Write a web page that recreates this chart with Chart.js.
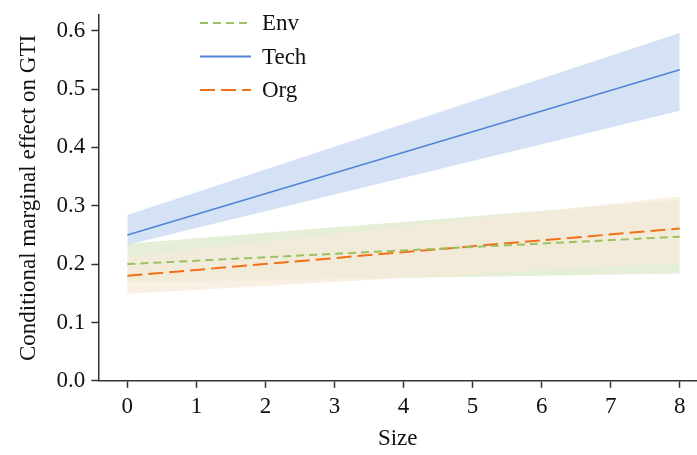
<!DOCTYPE html>
<html>
<head>
<meta charset="utf-8">
<script src="https://cdn.jsdelivr.net/npm/chart.js@4"></script>
<style>
  html,body{margin:0;padding:0;background:#fff;}
  #wrap{width:697px;height:455px;position:relative;}
</style>
</head>
<body>
<div id="wrap"><canvas id="chart" width="697" height="455"></canvas></div>
<script>
// values (size 0 and size 8, lines are straight)
const sizes = [0, 8];
const envMean = [0.200, 0.247];
const envLow  = [0.169, 0.184];
const envHigh = [0.235, 0.310];
const techMean = [0.250, 0.533];
const techLow  = [0.233, 0.463];
const techHigh = [0.284, 0.596];
const orgMean = [0.180, 0.261];
const orgLow  = [0.149, 0.203];
const orgHigh = [0.213, 0.316];
const xTicks = [0, 1, 2, 3, 4, 5, 6, 7, 8];
const yTicks = [0, 0.1, 0.2, 0.3, 0.4, 0.5, 0.6];
const labels = ['Env', 'Tech', 'Org'];

const FONT = "'Liberation Serif', 'DejaVu Serif', serif";
const FSIZE = 23;
const pts = arr => arr.map((v,i)=>({x:sizes[i], y:v}));

// bandOrder: lower is painted later (on top)
const series = [
  {name:labels[0], mean:envMean, lo:envLow, hi:envHigh, color:'#9dc063', band:'rgba(155,190,95,0.26)', bandOrder:3, dash:[8,5], width:2},
  {name:labels[1], mean:techMean, lo:techLow, hi:techHigh, color:'#4f85d8', band:'rgba(74,127,212,0.23)', bandOrder:1, dash:[], width:1.5},
  {name:labels[2], mean:orgMean, lo:orgLow, hi:orgHigh, color:'#f07018', band:'rgba(247,233,217,0.75)', bandOrder:2, dash:[15,6], width:2}
];

const datasets = [];
series.forEach(s=>{
  datasets.push({label:s.name, data:pts(s.mean), borderColor:s.color, borderWidth:s.width,
    borderDash:s.dash, pointRadius:0, fill:false, order:0});
});
series.forEach(s=>{
  datasets.push({label:s.name+' hi', data:pts(s.hi), borderWidth:0, pointRadius:0,
    backgroundColor:s.band, fill:'+1', order:s.bandOrder});
  datasets.push({label:s.name+' lo', data:pts(s.lo), borderWidth:0, pointRadius:0,
    fill:false, order:s.bandOrder});
});

// legend drawn inside the plot, like the original
const innerLegend = {
  id:'innerLegend',
  afterDraw(chart){
    const ctx = chart.ctx;
    ctx.save();
    series.forEach((s,i)=>{
      const y = 23 + i*33.5;
      ctx.strokeStyle = s.color; ctx.lineWidth = 2;
      ctx.setLineDash(s.dash);
      ctx.beginPath(); ctx.moveTo(200, y); ctx.lineTo(251, y); ctx.stroke();
      ctx.setLineDash([]);
      ctx.fillStyle = '#111'; ctx.font = FSIZE + 'px ' + FONT;
      ctx.textBaseline = 'middle'; ctx.textAlign = 'left';
      ctx.fillText(s.name, 262, y + 1);
    });
    ctx.restore();
  }
};

const axisCommon = {
  border:{display:true, color:'#333', width:1.5},
  grid:{drawOnChartArea:false, drawTicks:true, tickLength:7, color:'#333', tickWidth:1.5},
  ticks:{color:'#111', font:{family:FONT, size:FSIZE}, padding:6}
};

new Chart(document.getElementById('chart'), {
  type:'line',
  data:{datasets},
  plugins:[innerLegend],
  options:{
    responsive:false, animation:false,
    layout:{padding:{top:15, right:0, left:11, bottom:2}},
    plugins:{legend:{display:false}, tooltip:{enabled:false}},
    scales:{
      x:{type:'linear', min:-0.42, max:8.25, ...axisCommon,
        afterBuildTicks:sc=>{ sc.ticks = xTicks.map(v=>({value:v})); },
        ticks:{...axisCommon.ticks, padding:5, callback:v=>String(v), maxRotation:0},
        title:{display:true, text:'Size', color:'#111', font:{family:FONT, size:FSIZE}, padding:{top:0, bottom:0}}
      },
      y:{type:'linear', min:0, max:0.627, ...axisCommon,
        afterBuildTicks:sc=>{ sc.ticks = yTicks.map(v=>({value:v})); },
        afterFit:sc=>{ sc.paddingTop = 0; },
        ticks:{...axisCommon.ticks, callback:v=>Number(v).toFixed(1)},
        title:{display:true, text:'Conditional marginal effect on GTI', color:'#111', font:{family:FONT, size:FSIZE}, padding:{bottom:8}}
      }
    }
  }
});
</script>
</body>
</html>
